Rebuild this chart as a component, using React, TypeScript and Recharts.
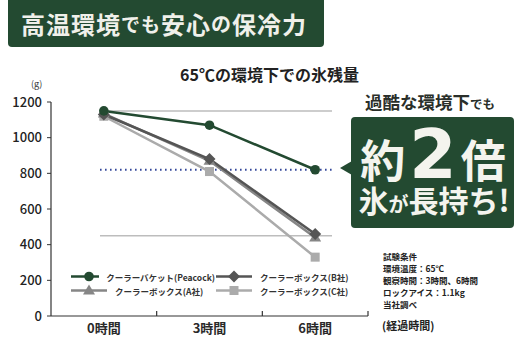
import React from 'react';
import { LineChart, Line, XAxis, YAxis, ReferenceLine } from 'recharts';

const hours = ['0時間', '3時間', '6時間'];
const peacock = [1150, 1070, 820];
const boxB = [1130, 880, 460];
const boxA = [1135, 870, 440];
const boxC = [1120, 810, 330];
const yTicks = [0, 200, 400, 600, 800, 1000, 1200];
const refTop = 1150;
const refMid = 820;
const refLow = 450;

const conditions = ['試験条件', '環境温度：65℃', '観察時間：3時間、6時間', 'ロックアイス：1.1kg', '当社調べ'];

const GREEN = '#234a31';
const FONT = '"Noto Sans CJK JP", "Noto Sans", sans-serif';

const data = hours.map((h, i) => ({
  hour: h,
  peacock: peacock[i],
  boxB: boxB[i],
  boxA: boxA[i],
  boxC: boxC[i],
}));

const W = 530;
const H = 351;
const M = { top: 102, right: 162, bottom: 0, left: 0 };
const Y_W = 51;
const band = (W - M.right - M.left - Y_W) / hours.length;

type Shape = 'circle' | 'diamond' | 'triangle' | 'square';

const marker = (shape: Shape, cx: number, cy: number, color: string, key?: string) => {
  if (shape === 'circle') return <circle key={key} cx={cx} cy={cy} r={4.8} fill={color} />;
  if (shape === 'diamond')
    return <polygon key={key} points={`${cx},${cy - 6} ${cx + 6},${cy} ${cx},${cy + 6} ${cx - 6},${cy}`} fill={color} />;
  if (shape === 'triangle')
    return <polygon key={key} points={`${cx},${cy - 6} ${cx + 6},${cy + 4} ${cx - 6},${cy + 4}`} fill={color} />;
  return <rect key={key} x={cx - 4.5} y={cy - 4.5} width={9} height={9} fill={color} />;
};

const series = [
  { key: 'peacock', name: 'クーラーバケット(Peacock)', color: GREEN, shape: 'circle' as Shape },
  { key: 'boxB', name: 'クーラーボックス(B社)', color: '#555555', shape: 'diamond' as Shape },
  { key: 'boxA', name: 'クーラーボックス(A社)', color: '#868686', shape: 'triangle' as Shape },
  { key: 'boxC', name: 'クーラーボックス(C社)', color: '#ababab', shape: 'square' as Shape },
];

const drawOrder = ['boxC', 'boxA', 'boxB', 'peacock'];

const LegendBox = () => (
  <div
    style={{
      position: 'absolute',
      left: 70,
      top: 270,
      display: 'grid',
      gridTemplateColumns: '145px 145px',
      rowGap: 1,
      fontFamily: FONT,
    }}
  >
    {series.map((s) => (
      <div key={s.key} style={{ display: 'flex', alignItems: 'center', height: 13 }}>
        <svg width={38} height={13} style={{ marginRight: 7 }}>
          <line x1={1} y1={6.5} x2={37} y2={6.5} stroke={s.color} strokeWidth={2.5} />
          {marker(s.shape, 19, 6.5, s.color)}
        </svg>
        <span style={{ fontSize: 8.5, fontWeight: 700, color: '#333', whiteSpace: 'nowrap' }}>{s.name}</span>
      </div>
    ))}
  </div>
);

const XTick = (props: any) => {
  const { x, y, payload } = props;
  return (
    <g>
      <text x={x} y={y + 17} textAnchor="middle" fontSize={13} fontWeight={700} fill="#2a2a2a" fontFamily={FONT}>
        {payload.value}
      </text>
      <line x1={x + band / 2} y1={y} x2={x + band / 2} y2={y - 5} stroke="#333" strokeWidth={1.2} />
    </g>
  );
};

const refShape = (color: string, dash?: string, width = 1.5) => (p: any) => (
  <line
    x1={p.x1 + 49}
    y1={p.y1}
    x2={p.x2 - 36}
    y2={p.y2}
    stroke={color}
    strokeWidth={width}
    strokeDasharray={dash}
  />
);

const Callout = () => (
  <svg width={W} height={H} style={{ position: 'absolute', left: 0, top: 0, pointerEvents: 'none' }}>
    <text x={365} y={109} fontSize={17.5} fontWeight={700} fill="#2a2f2a" fontFamily={FONT}>
      過酷な環境下<tspan fontSize={12.5}>でも</tspan>
    </text>
    <rect x={351} y={117} width={163} height={111} rx={4} fill={GREEN} />
    <polygon points="340,168 352,161 352,175" fill={GREEN} />
    <text x={433} y={178} textAnchor="middle" fill="#f4f4ee" fontWeight={700} fontFamily={FONT}>
      <tspan fontSize={45}>約</tspan>
      <tspan fontSize={68} dx={4} fontFamily='"DejaVu Sans", sans-serif'>2</tspan>
      <tspan fontSize={45} dx={4}>倍</tspan>
    </text>
    <text x={434} y={212} textAnchor="middle" fill="#f4f4ee" fontWeight={700} fontFamily={FONT}>
      <tspan fontSize={30}>氷</tspan>
      <tspan fontSize={20}>が</tspan>
      <tspan fontSize={30}>長持ち!</tspan>
    </text>
  </svg>
);

export default function App() {
  return (
    <div style={{ position: 'absolute', left: 0, top: 0, width: W, height: H, background: '#fff', fontFamily: FONT }}>
      <div
        style={{
          position: 'absolute',
          left: 8,
          top: 0,
          width: 316,
          height: 47,
          background: GREEN,
          borderRadius: '0 0 4px 4px',
          color: '#f0f0ea',
          display: 'flex',
          alignItems: 'center',
          paddingLeft: 13,
          boxSizing: 'border-box',
          fontWeight: 700,
          fontSize: 24,
          letterSpacing: 1,
          whiteSpace: 'nowrap',
        }}
      >
        高温環境<span style={{ fontSize: 19 }}>でも</span>安心<span style={{ fontSize: 20 }}>の</span>保冷力
      </div>

      <div style={{ position: 'absolute', left: 180, top: 62, fontSize: 16, fontWeight: 700, color: '#222', whiteSpace: 'nowrap' }}>
        65℃の環境下での氷残量
      </div>
      <div style={{ position: 'absolute', left: 31, top: 77, fontSize: 9, color: '#333' }}>(g)</div>

      <LineChart width={W} height={H} data={data} margin={M} style={{ position: 'absolute', left: 0, top: 0 }}>
        <XAxis
          dataKey="hour"
          scale="band"
          axisLine={{ stroke: '#333', strokeWidth: 1.2 }}
          tickLine={false}
          tickSize={0}
          tickMargin={0}
          height={35}
          tick={<XTick />}
          interval={0}
        />
        <YAxis
          domain={[0, 1200]}
          ticks={yTicks}
          width={Y_W}
          axisLine={{ stroke: '#333', strokeWidth: 1.2 }}
          tickLine={{ stroke: '#333' }}
          tickSize={4}
          tickMargin={5}
          tick={{ fontSize: 13, fill: '#222', fontWeight: 500, fontFamily: FONT }}
          allowDataOverflow
        />
        <ReferenceLine y={refTop} shape={refShape('#bdbdbd')} />
        <ReferenceLine y={refLow} shape={refShape('#bdbdbd')} />
        <ReferenceLine y={refMid} shape={refShape('#34489a', '1.6 3.4', 1.8)} />
        {drawOrder.map((k) => {
          const s = series.find((v) => v.key === k)!;
          return (
            <Line
              key={k}
              dataKey={k}
              name={s.name}
              stroke={s.color}
              strokeWidth={2.5}
              isAnimationActive={false}
              dot={(p: any) => marker(s.shape, p.cx, p.cy, s.color, `${k}-${p.index}`)}
              activeDot={false}
            />
          );
        })}
      </LineChart>

      <LegendBox />
      <Callout />

      <div style={{ position: 'absolute', left: 383, top: 250, fontSize: 8.5, fontWeight: 700, color: '#222', lineHeight: '12px' }}>
        {conditions.map((c) => (
          <div key={c} style={{ whiteSpace: 'nowrap' }}>{c}</div>
        ))}
      </div>
      <div style={{ position: 'absolute', left: 382, top: 317, fontSize: 11, fontWeight: 700, color: '#222', whiteSpace: 'nowrap' }}>
        (経過時間)
      </div>
    </div>
  );
}
